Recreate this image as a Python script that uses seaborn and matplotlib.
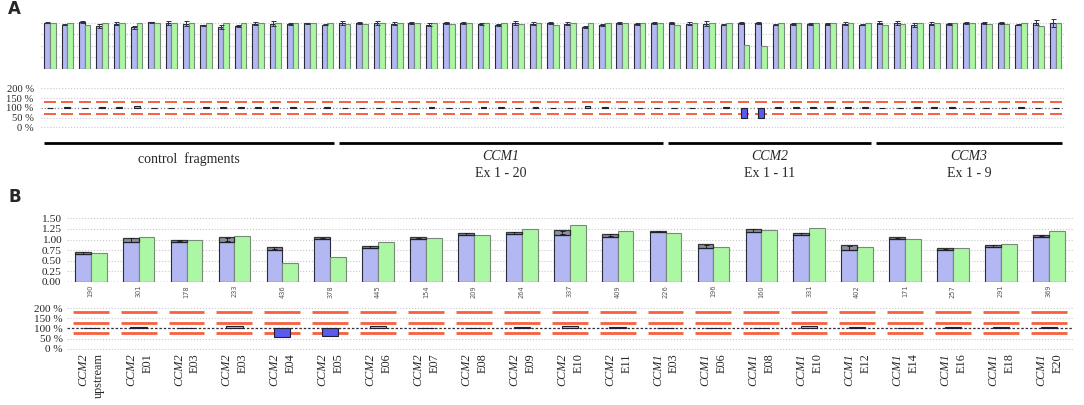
import numpy as np
import pandas as pd
import matplotlib
matplotlib.use("Agg")
import matplotlib.pyplot as plt
import seaborn as sns
from matplotlib.transforms import blended_transform_factory as btf

# ---------------- Panel A data ----------------
a_blue = [1.00, 0.96, 1.01, 0.93, 0.98, 0.90, 1.01, 1.00, 0.98, 0.94,
          0.90, 0.93, 0.98, 0.98, 0.98, 0.99, 0.96, 0.99, 1.00, 1.00,
          0.98, 1.00, 0.96, 1.00, 1.00, 0.98, 0.95, 0.99, 0.98, 1.00,
          0.98, 0.90, 0.95, 1.00, 0.98, 1.00, 1.00, 0.98, 0.98, 0.96,
          1.00, 1.00, 0.96, 0.98, 0.98, 0.97, 0.98, 0.96, 1.00, 1.00,
          0.95, 0.98, 0.98, 1.00, 1.00, 1.00, 0.96, 1.00, 0.99]
a_green = [1.00, 0.99, 0.94, 0.99, 0.99, 0.99, 0.99, 0.99, 0.99, 0.99,
           0.99, 0.99, 0.99, 0.99, 0.99, 0.99, 0.99, 0.98, 0.97, 1.00,
           1.00, 1.00, 1.00, 0.98, 1.00, 1.00, 1.00, 0.98, 1.00, 0.96,
           1.00, 1.00, 1.00, 1.00, 1.00, 1.00, 0.96, 1.00, 1.00, 1.00,
           0.52, 0.49, 1.00, 1.00, 1.00, 1.00, 1.00, 1.00, 0.94, 0.97,
           1.00, 1.00, 1.00, 0.99, 0.97, 0.97, 1.00, 0.93, 1.00]
a_err = [0.01, 0.02, 0.02, 0.04, 0.04, 0.03, 0.01, 0.04, 0.05, 0.02,
         0.04, 0.03, 0.03, 0.05, 0.02, 0.01, 0.01, 0.04, 0.02, 0.04,
         0.03, 0.02, 0.03, 0.02, 0.02, 0.02, 0.03, 0.04, 0.03, 0.02,
         0.03, 0.02, 0.03, 0.02, 0.02, 0.02, 0.02, 0.03, 0.05, 0.02,
         0.02, 0.02, 0.01, 0.02, 0.02, 0.02, 0.04, 0.02, 0.03, 0.04,
         0.04, 0.03, 0.02, 0.02, 0.02, 0.02, 0.02, 0.06, 0.08]
a_ratio = [100.5, 102, 97, 105, 102, 110, 100, 100, 100.5, 104,
           106, 105, 102, 102, 102, 100.5, 102, 100, 100.5, 100,
           101, 101, 102, 100.5, 101, 102, 103, 100, 102, 98.5,
           101, 108, 102, 100, 101, 101, 98.5, 100, 101, 102,
           50, 50, 102, 102, 102, 102, 102, 102, 98, 100.5,
           102, 102, 102, 100, 99, 99, 102, 97, 100]
a_group_names = ["control  fragments", "CCM1", "CCM2", "CCM3"]
a_group_sub = ["", "Ex 1 - 20", "Ex 1 - 11", "Ex 1 - 9"]
a_group_size = [17, 19, 12, 11]
a_thresholds = [70, 130]

# ---------------- Panel B data ----------------
b_gene = ["CCM2"] * 12 + ["CCM1"] * 9
b_exon = ["upstream", "E01", "E03", "E03", "E04", "E05", "E06", "E07", "E08",
          "E09", "E10", "E11", "E03", "E06", "E08", "E10", "E12", "E14",
          "E16", "E18", "E20"]
b_counts = [190, 301, 178, 233, 436, 378, 445, 154, 209, 264, 337, 409,
            226, 196, 160, 331, 402, 171, 257, 291, 369]
b_blue_lo = [0.66, 0.93, 0.95, 0.95, 0.76, 1.01, 0.80, 1.02, 1.10, 1.12, 1.11,
             1.07, 1.17, 0.80, 1.17, 1.10, 0.75, 1.02, 0.74, 0.83, 1.07]
b_blue_hi = [0.70, 1.04, 0.99, 1.05, 0.83, 1.05, 0.84, 1.05, 1.15, 1.18, 1.22,
             1.13, 1.20, 0.89, 1.25, 1.15, 0.86, 1.05, 0.79, 0.87, 1.11]
b_green = [0.67, 1.05, 1.00, 1.09, 0.45, 0.59, 0.93, 1.03, 1.11, 1.24, 1.34,
           1.19, 1.15, 0.82, 1.22, 1.27, 0.83, 1.02, 0.81, 0.89, 1.20]
b_ratio = [100.5, 107, 103, 110, 58, 60, 113, 100, 100, 106, 113, 106,
           100.5, 99.5, 103, 111, 105, 100, 105, 105, 106]
b_thresholds = [77, 128, 178]

# ---------------- style ----------------
sns.set_theme(style="white")
plt.rcParams["font.family"] = ["Liberation Serif", "DejaVu Serif"]

BLUE = "#b3b8f2"
GREEN = "#acf7a4"
DARKBLUE = "#5a5af0"
RED = "#f8603e"
GRID = "#c8c8c8"

W, H = 1084, 405
fig = plt.figure(figsize=(W / 100, H / 100), dpi=100)


def ax_at(x0, x1, ytop, ybot):
    return fig.add_axes([x0 / W, 1 - ybot / H, (x1 - x0) / W, (ybot - ytop) / H])


def clean(ax):
    for s in ax.spines.values():
        s.set_visible(False)
    ax.set_xticks([])
    ax.set_xlabel("")
    ax.set_ylabel("")
    ax.tick_params(axis="both", length=0)


def draw_bars(ax, blue, green, n):
    df = pd.DataFrame({
        "pos": list(range(n)) * 2,
        "series": ["ref"] * n + ["sample"] * n,
        "value": list(blue) + list(green),
    })
    sns.barplot(data=df, x="pos", y="value", hue="series",
                hue_order=["ref", "sample"],
                palette={"ref": BLUE, "sample": GREEN},
                width=0.66, errorbar=None, saturation=1, legend=False,
                ax=ax, zorder=3)
    for cont, ec in zip(ax.containers, ["#2a2a3a", "#7a8a7a"]):
        for p in cont:
            p.set_edgecolor(ec)
            p.set_linewidth(0.8)


def draw_ratio(ax, ratio, thresholds, n, seg_half, seg_lw, midline_color, midline_ls, fs):
    x = np.arange(n)
    for yv in [0, 50, 150, 200]:
        ax.axhline(yv, color=GRID, lw=0.8, ls=":", zorder=1)
    ax.axhline(100, color=midline_color, lw=0.9, ls=midline_ls, zorder=2)
    for t in thresholds:
        ax.hlines(np.full(n, t), x - seg_half, x + seg_half, color=RED, lw=seg_lw, zorder=2)
    r = np.asarray(ratio, dtype=float)
    cols = [DARKBLUE if (v < min(thresholds) or v > max(thresholds)) else BLUE for v in r]
    ax.bar(x, r - 100, bottom=100, width=0.34, color=cols,
           edgecolor="#202030", linewidth=0.8, zorder=4)
    ax.set_ylim(-4, 204)
    ax.set_yticks([0, 50, 100, 150, 200])
    ax.set_yticklabels(["0 %", "50 %", "100 %", "150 %", "200 %"], fontsize=fs)


nA = len(a_blue)
nB = len(b_blue_lo)

# ---------------- Panel A top ----------------
axA = ax_at(41.3, 1064.4, 11.1, 69)
draw_bars(axA, a_blue, a_green, nA)
xa = np.arange(nA)
axA.errorbar(xa - 0.165, a_blue, yerr=a_err, fmt="none", ecolor="#303040",
             elinewidth=0.7, capsize=1.8, capthick=0.7, zorder=5)
for yv in [0.25, 0.5, 0.75, 1.0]:
    axA.axhline(yv, color=GRID, lw=0.8, ls=":", zorder=1)
axA.axhline(0, color="#909090", lw=0.9, ls=":", zorder=4)
axA.set_xlim(-0.5, nA - 0.5)
axA.set_ylim(0, 1.25)
axA.set_yticks([])
clean(axA)

# ---------------- Panel A ratio ----------------
axAr = ax_at(41.3, 1064.4, 87.5, 128.1)
draw_ratio(axAr, a_ratio, a_thresholds, nA, 0.34, 1.4, "#8a8a8a", ":", 7.6)
axAr.set_xlim(-0.5, nA - 0.5)
clean(axAr)
axAr.tick_params(axis="y", pad=5.5)

trA = btf(axAr.transData, axAr.transAxes)
start = 0
for name, sub, size in zip(a_group_names, a_group_sub, a_group_size):
    end = start + size - 1
    axAr.plot([start - 0.36, end + 0.36], [-0.36, -0.36], color="black", lw=2,
              transform=trA, clip_on=False, solid_capstyle="butt")
    cx = (start + end) / 2
    if sub:
        axAr.text(cx, -0.71, name, transform=trA, ha="center", va="center",
                  fontsize=10, style="italic")
        axAr.text(cx, -1.12, sub, transform=trA, ha="center", va="center",
                  fontsize=10)
    else:
        axAr.text(cx, -0.77, name, transform=trA, ha="center", va="center",
                  fontsize=10)
    start = end + 1

# ---------------- Panel B top ----------------
axB = ax_at(66.75, 1072.7, 216.3, 281.7)
draw_bars(axB, b_blue_lo, b_green, nB)
xb = np.arange(nB)
lo = np.asarray(b_blue_lo)
hi = np.asarray(b_blue_hi)
axB.bar(xb - 0.165, hi - lo, bottom=lo, width=0.33, color="#7c7c8c", alpha=0.85,
        edgecolor="#1a1a22", linewidth=0.9, zorder=4)
axB.errorbar(xb - 0.165, (lo + hi) / 2, yerr=(hi - lo) / 2 * 0.8, fmt="none",
             ecolor="#202028", elinewidth=0.7, capsize=1.8, capthick=0.7, zorder=5)
for yv in [0.25, 0.5, 0.75, 1.0, 1.25, 1.5]:
    axB.axhline(yv, color=GRID, lw=0.8, ls=":", zorder=1)
axB.axhline(0, color="#404040", lw=0.9, ls=":", zorder=5)
axB.set_xlim(-0.5, nB - 0.5)
axB.set_ylim(0, 1.55)
axB.set_yticks([0, 0.25, 0.5, 0.75, 1.0, 1.25, 1.5])
axB.set_yticklabels(["0.00", "0.25", "0.50", "0.75", "1.00", "1.25", "1.50"], fontsize=8.2)
clean(axB)
axB.tick_params(axis="y", pad=4)

trB = btf(axB.transData, axB.transAxes)
for i, c in enumerate(b_counts):
    axB.text(i, -0.05, str(c), transform=trB, rotation=90, ha="center", va="top",
             fontsize=4.8, color="#555555", family="DejaVu Sans")

# ---------------- Panel B ratio ----------------
axBr = ax_at(66.75, 1072.7, 307.2, 349.5)
draw_ratio(axBr, b_ratio, b_thresholds, nB, 0.375, 2.0, "#303030", (0, (2, 1.5)), 8.0)
axBr.set_xlim(-0.5, nB - 0.5)
clean(axBr)
axBr.tick_params(axis="y", pad=3)

trBr = btf(axBr.transData, axBr.transAxes)
for i, (g, e) in enumerate(zip(b_gene, b_exon)):
    axBr.text(i - 0.16, -0.09, g, transform=trBr, rotation=90, ha="center",
              va="top", fontsize=8.8, style="italic")
    axBr.text(i + 0.18, -0.09, e, transform=trBr, rotation=90, ha="center",
              va="top", fontsize=8.8)

# ---------------- Panel letters ----------------
fig.text(8 / W, 1 - 9 / H, "A", fontsize=12, fontweight="bold",
         family="DejaVu Sans", va="center", ha="left")
fig.text(8 / W, 1 - 197 / H, "B", fontsize=12, fontweight="bold",
         family="DejaVu Sans", va="center", ha="left")

fig.savefig("out.png", dpi=100)
